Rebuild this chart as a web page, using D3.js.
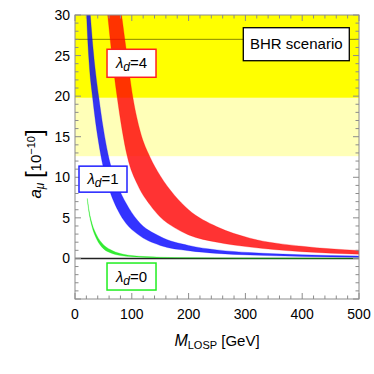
<!DOCTYPE html>
<html>
<head>
<meta charset="utf-8">
<script src="https://cdn.jsdelivr.net/npm/d3@7"></script>
<style>
  body { margin: 0; background: #fff; }
  svg { display: block; font-family: "Liberation Sans", Arial, sans-serif; }
</style>
</head>
<body>
<svg id="chart"></svg>
<script>
// [M_LOSP in GeV, a_mu in 1e-10]
let redUpper = [[80, 31], [82, 30], [90, 25.8], [102, 19.8], [115, 15.6], [132, 12.5], [150, 10.2], [175, 7.8], [200, 6.0], [250, 3.9], [308, 2.5], [400, 1.5], [500, 0.98]];
let redLower = [[56, 31], [57.5, 30], [65, 25], [74, 20], [92, 12.6], [110, 9.1], [132, 6.6], [150, 5.1], [175, 3.8], [200, 2.9], [250, 2.0], [308, 1.4], [400, 0.83], [500, 0.52]];
let blueUpper = [[26, 31], [27, 30], [33, 25], [42, 19.8], [58, 12.9], [75, 9.0], [90, 6.8], [110, 4.7], [150, 2.7], [200, 1.6], [250, 1.05], [308, 0.72], [400, 0.45], [500, 0.3]];
let blueLower = [[20, 31], [20.5, 30], [25, 24], [31, 19.8], [45, 12.9], [60, 8.6], [75, 6.0], [90, 4.3], [110, 3.0], [150, 1.6], [200, 0.95], [250, 0.62], [308, 0.42], [400, 0.25], [500, 0.15]];
let greenUpper = [[21.7, 7.4], [25, 5.8], [30, 4.3], [38, 2.9], [50, 1.7], [62, 1.1], [80, 0.6], [100, 0.35], [150, 0.15], [200, 0.08], [300, 0.04], [500, 0.02]];
let greenLower = [[21.7, 7.2], [25, 5.5], [30, 3.9], [38, 2.4], [50, 1.2], [62, 0.7], [80, 0.35], [100, 0.2], [150, 0.08], [200, 0.04], [300, 0.02], [500, 0.01]];

let bandOuter = [19.8, 40];   // 1 sigma
let bandInner = [12.6, 19.8]; // 2 sigma
let central = 27;

let xTicks = [0, 100, 200, 300, 400, 500];
let yTicks = [0, 5, 10, 15, 20, 25, 30];

let width = 374, height = 374;
let margin = { top: 15, right: 15, bottom: 75, left: 75 };

let svg = d3.select("#chart").attr("width", width).attr("height", height);

let x = d3.scaleLinear().domain([0, 500]).range([margin.left, width - margin.right]);
let y = d3.scaleLinear().domain([-5, 30]).range([height - margin.bottom, margin.top]);

svg.append("clipPath").attr("id", "plot")
  .append("rect")
  .attr("x", x(0)).attr("y", y(30))
  .attr("width", x(500) - x(0)).attr("height", y(-5) - y(30));

let g = svg.append("g").attr("clip-path", "url(#plot)");

// experimental bands
g.append("rect")
  .attr("x", x(0)).attr("width", x(500) - x(0))
  .attr("y", y(bandInner[1])).attr("height", y(bandInner[0]) - y(bandInner[1]))
  .attr("fill", "#ffffb8");
g.append("rect")
  .attr("x", x(0)).attr("width", x(500) - x(0))
  .attr("y", y(bandOuter[1])).attr("height", y(bandOuter[0]) - y(bandOuter[1]))
  .attr("fill", "#ffff00");
g.append("line")
  .attr("x1", x(0)).attr("x2", x(500))
  .attr("y1", y(central)).attr("y2", y(central))
  .attr("stroke", "#8a8a00").attr("stroke-width", 1);

// zero line
g.append("line")
  .attr("x1", x(0)).attr("x2", x(500))
  .attr("y1", y(0)).attr("y2", y(0))
  .attr("stroke", "#222").attr("stroke-width", 1.5);

let line = d3.line().x((d) => x(d[0])).y((d) => y(d[1])).curve(d3.curveMonotoneX);
let bandPath = (up, lo) => line(up) + "L" + line(lo.slice().reverse()).slice(1) + "Z";

let bands = [
  { up: greenUpper, lo: greenLower, color: "rgb(0,230,0)" },
  { up: blueUpper, lo: blueLower, color: "rgb(0,0,255)" },
  { up: redUpper, lo: redLower, color: "rgb(255,0,0)" }
];

g.selectAll("path.band")
  .data(bands)
  .enter()
  .append("path")
  .attr("class", "band")
  .attr("d", (d) => bandPath(d.up, d.lo))
  .attr("fill", (d) => d.color)
  .attr("fill-opacity", 0.8)
  .attr("stroke", (d) => d.color)
  .attr("stroke-opacity", 0.5)
  .attr("stroke-width", 0.5);

// frame and ticks
let frame = svg.append("g").attr("stroke", "#8c8c8c").attr("fill", "none");
frame.append("rect")
  .attr("x", x(0)).attr("y", y(30))
  .attr("width", x(500) - x(0)).attr("height", y(-5) - y(30))
  .attr("stroke-width", 1);

let xMinor = d3.range(0, 501, 20);
let yMinor = d3.range(-5, 31, 1);

xMinor.forEach((v) => {
  let len = v % 100 === 0 ? 6 : 3.5;
  frame.append("line").attr("x1", x(v)).attr("x2", x(v)).attr("y1", y(-5)).attr("y2", y(-5) - len);
  frame.append("line").attr("x1", x(v)).attr("x2", x(v)).attr("y1", y(30)).attr("y2", y(30) + len);
});
yMinor.forEach((v) => {
  let len = v % 5 === 0 ? 6 : 3.5;
  frame.append("line").attr("x1", x(0)).attr("x2", x(0) + len).attr("y1", y(v)).attr("y2", y(v));
  frame.append("line").attr("x1", x(500)).attr("x2", x(500) - len).attr("y1", y(v)).attr("y2", y(v));
});

svg.append("g").selectAll("text")
  .data(xTicks)
  .enter()
  .append("text")
  .attr("x", (d) => x(d))
  .attr("y", y(-5) + 20)
  .attr("text-anchor", "middle")
  .attr("font-size", 14)
  .text((d) => d);

svg.append("g").selectAll("text")
  .data(yTicks)
  .enter()
  .append("text")
  .attr("x", x(0) - 5)
  .attr("y", (d) => y(d) + 5)
  .attr("text-anchor", "end")
  .attr("font-size", 14)
  .text((d) => d);

// axis titles
let xt = svg.append("text")
  .attr("x", (x(0) + x(500)) / 2)
  .attr("y", 346)
  .attr("text-anchor", "middle")
  .attr("font-size", 15);
xt.append("tspan").attr("font-style", "italic").attr("font-size", 16).text("M");
xt.append("tspan").attr("font-size", 11).attr("dy", 3).text("LOSP");
xt.append("tspan").attr("dy", -3).text(" [GeV]");

let yt = svg.append("text")
  .attr("transform", `translate(41,164) rotate(-90)`)
  .attr("text-anchor", "middle")
  .attr("font-size", 16);
yt.append("tspan").attr("font-style", "italic").attr("font-size", 17).text("a");
yt.append("tspan").attr("font-style", "italic").attr("font-size", 12).attr("dy", 3).text("μ");
yt.append("tspan").attr("dy", -3).attr("font-size", 16).text(" ");
yt.append("tspan").attr("font-size", 24).attr("dy", 1).text("[");
yt.append("tspan").attr("font-size", 15).attr("dy", -1).text("10");
yt.append("tspan").attr("font-size", 11).attr("dy", -6).text("−10");
yt.append("tspan").attr("font-size", 24).attr("dy", 7).text("]");

// labels
let labels = [
  { m: 99.5, a: 24.05, w: 49, h: 28, color: "#ff2020", value: "4" },
  { m: 49.3, a: 9.77, w: 48, h: 26, color: "#2020ff", value: "1" },
  { m: 99.5, a: -2.23, w: 49, h: 27, color: "#20ee20", value: "0" }
];

labels.forEach((l) => {
  let cx = x(l.m), cy = y(l.a);
  svg.append("rect")
    .attr("x", cx - l.w / 2).attr("y", cy - l.h / 2)
    .attr("width", l.w).attr("height", l.h)
    .attr("fill", "#fff").attr("stroke", l.color).attr("stroke-width", 1.5);
  let t = svg.append("text")
    .attr("x", cx).attr("y", cy + 5)
    .attr("text-anchor", "middle")
    .attr("font-size", 15);
  t.append("tspan").attr("font-style", "italic").text("λ");
  t.append("tspan").attr("font-style", "italic").attr("font-size", 12).attr("dy", 3).text("d");
  t.append("tspan").attr("dy", -3).text("=" + l.value);
});

let bx = x(389.6), by = y(26.4);
svg.append("rect")
  .attr("x", bx - 53).attr("y", by - 16.5)
  .attr("width", 106).attr("height", 33)
  .attr("fill", "#fff").attr("stroke", "#000").attr("stroke-width", 1.3);
svg.append("text")
  .attr("x", bx).attr("y", by + 5)
  .attr("text-anchor", "middle")
  .attr("font-size", 15)
  .text("BHR scenario");
</script>
</body>
</html>
